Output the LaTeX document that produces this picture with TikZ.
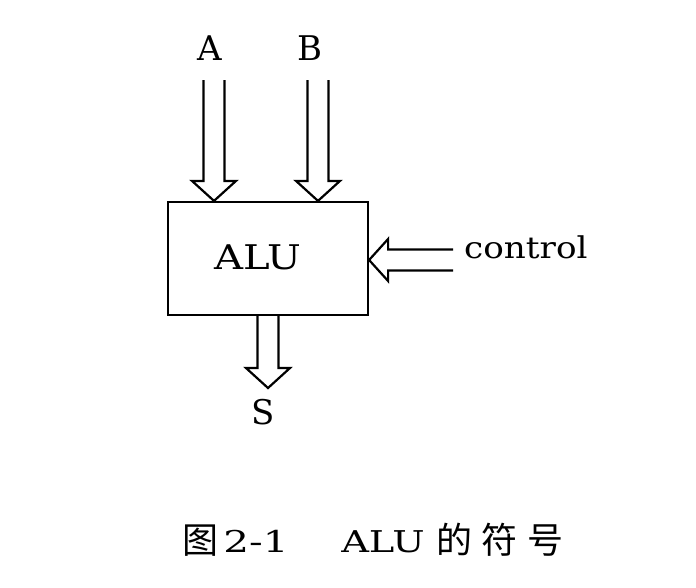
\documentclass[tikz,border=0pt]{standalone}
\usepackage{fontspec}
\usepackage{graphicx}
\setmainfont{DejaVu Serif}
\newfontfamily\cjk{Noto Sans CJK SC}
\usetikzlibrary{calc}
\tikzset{
  hollow/.style={draw=black, line width=2.2pt, line join=miter},
  alubox/.style={draw=black, line width=2.2pt, minimum width=200pt, minimum height=113pt, inner sep=0pt},
  lbl/.style={inner sep=0pt, font=\fontsize{34}{38}\selectfont},
  ctl/.style={inner sep=0pt, font=\fontsize{30}{34}\selectfont},
  captxt/.style={inner sep=0pt, font=\fontsize{30}{34}\selectfont},
  capcjk/.style={inner sep=0pt, font=\fontsize{36}{40}\selectfont\cjk},
}
\newcommand{\blockdown}[2]{%
  \draw[hollow] ($(#1)+(-10.5,0)$) -- ($(#2)+(-10.5,-20)$) -- ($(#2)+(-22,-20)$) -- (#2)
    -- ($(#2)+(22,-20)$) -- ($(#2)+(10.5,-20)$) -- ($(#1)+(10.5,0)$);}
\begin{document}
\begin{tikzpicture}[x=1pt,y=-1pt]
\useasboundingbox (0,0) rectangle (696,587);
\fill[white] (0,0) rectangle (696,587);

\node[alubox] (alu) at (268,258.5) {};
\node[lbl] (alutext) at (258,257.5) {\scalebox{1.18}[1]{ALU}};

% inputs A and B
\node[lbl] (la) at (210,48.5) {A};
\node[lbl] (lb) at (310,48.5) {B};
\coordinate (Atop) at (214,80);
\coordinate (Atip) at (alu.north -| Atop);
\coordinate (Btop) at (318,80);
\coordinate (Btip) at (alu.north -| Btop);
\blockdown{Atop}{Atip}
\blockdown{Btop}{Btip}

% output S
\coordinate (Sstart) at (alu.south -| 268,0);
\coordinate (Stip) at (268,388);
\blockdown{Sstart}{Stip}
\node[lbl] (ls) at (263,412.5) {S};

% control input
\coordinate (Ctail) at (453,260);
\coordinate (Ctip) at (alu.east |- Ctail);
\draw[hollow] ($(Ctail)+(0,-10.5)$) -- ($(Ctip)+(19,-10.5)$) -- ($(Ctip)+(19,-21)$) -- (Ctip)
  -- ($(Ctip)+(19,21)$) -- ($(Ctip)+(19,10.5)$) -- ($(Ctail)+(0,10.5)$);
\node[ctl, anchor=base west] (lc) at (464,258) {\scalebox{1.14}[1]{control}};

% caption
\node[capcjk, anchor=base] (capfig) at (200,553) {图};
\node[captxt, anchor=base] (capnum) at (256,552) {\scalebox{1.35}[1]{2-1}};
\node[captxt, anchor=base] (capalu) at (383,552) {\scalebox{1.28}[1]{ALU}};
\node[capcjk, anchor=base] (capsym) at (500,553) {的\hspace{10pt}符\hspace{10pt}号};
\end{tikzpicture}
\end{document}
